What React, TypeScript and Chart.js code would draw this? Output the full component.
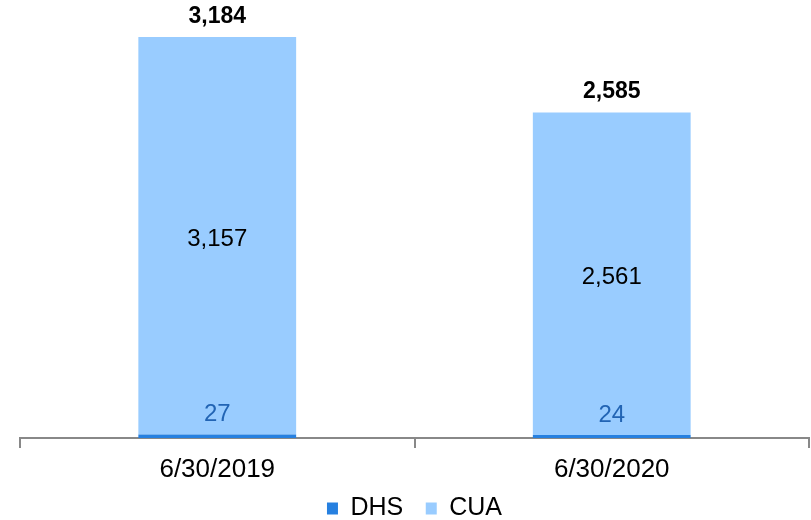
import React, { useEffect, useRef } from "react";
import { Chart, registerables } from "chart.js";

Chart.register(...registerables);

const categories = ["6/30/2019", "6/30/2020"];
const seriesNames = ["DHS", "CUA"];
const dhsValues = [27, 24];
const cuaValues = [3157, 2561];

const FONT = "'Liberation Sans', Arial, sans-serif";
const DHS_COLOR = "#2680E0";
const CUA_COLOR = "#99CCFF";
const AXIS_COLOR = "#888888";

const fmt = (v: number) => v.toLocaleString("en-US");

const labelsPlugin = {
  id: "valueLabels",
  afterDatasetsDraw(chart: any) {
    const ctx = chart.ctx;
    const dhsMeta = chart.getDatasetMeta(0);
    const cuaMeta = chart.getDatasetMeta(1);
    ctx.save();
    ctx.textAlign = "center";
    categories.forEach((_, i) => {
      const dBar = dhsMeta.data[i];
      const cBar = cuaMeta.data[i];
      ctx.font = `24px ${FONT}`;
      ctx.fillStyle = "#2264B4";
      ctx.textBaseline = "middle";
      ctx.fillText(fmt(dhsValues[i]), dBar.x, dBar.y - 20);
      ctx.fillStyle = "#000000";
      ctx.fillText(fmt(cuaValues[i]), cBar.x, (cBar.y + cBar.base) / 2 + 4);
      ctx.font = `bold 23px ${FONT}`;
      ctx.textBaseline = "alphabetic";
      ctx.fillText(fmt(dhsValues[i] + cuaValues[i]), cBar.x, cBar.y - 14);
    });
    ctx.restore();
  },
};

export default function App() {
  const ref = useRef<HTMLCanvasElement>(null);
  useEffect(() => {
    if (!ref.current) return;
    const chart = new Chart(ref.current, {
      type: "bar",
      data: {
        labels: categories,
        datasets: [
          { label: seriesNames[0], data: dhsValues, backgroundColor: DHS_COLOR },
          { label: seriesNames[1], data: cuaValues, backgroundColor: CUA_COLOR },
        ],
      },
      options: {
        animation: false,
        responsive: false,
        devicePixelRatio: 1,
        layout: { padding: { left: 20, right: 2, top: 0, bottom: -11 } },
        datasets: { bar: { categoryPercentage: 1, barPercentage: 0.4 } },
        scales: {
          x: {
            stacked: true,
            border: { display: true, color: AXIS_COLOR, width: 2 },
            grid: {
              drawOnChartArea: false,
              drawTicks: true,
              tickLength: 10,
              color: AXIS_COLOR,
              lineWidth: 2,
              offset: true,
            },
            ticks: {
              color: "#000",
              font: { family: FONT, size: 26 },
              padding: 6,
            },
            afterFit: (scale: any) => {
              scale.height = 48;
            },
          },
          y: {
            stacked: true,
            display: false,
            min: 0,
            max: 3478,
          },
        },
        plugins: {
          legend: {
            position: "bottom",
            labels: {
              boxWidth: 11,
              boxHeight: 12,
              color: "#000",
              font: { family: FONT, size: 25 },
              padding: 10,
              generateLabels: (c: any) => {
                const items = Chart.defaults.plugins.legend.labels.generateLabels(c);
                items.forEach((it: any, idx: number) => {
                  if (idx < items.length - 1) it.text = it.text + "\u2002";
                });
                return items;
              },
            },
          },
          tooltip: { enabled: false },
        },
      },
      plugins: [labelsPlugin],
    });
    return () => chart.destroy();
  }, []);
  return (
    <div style={{ position: "fixed", left: 0, top: 0, width: 811, height: 520, background: "#fff" }}>
      <canvas ref={ref} width={811} height={520} style={{ width: 811, height: 520 }} />
    </div>
  );
}
